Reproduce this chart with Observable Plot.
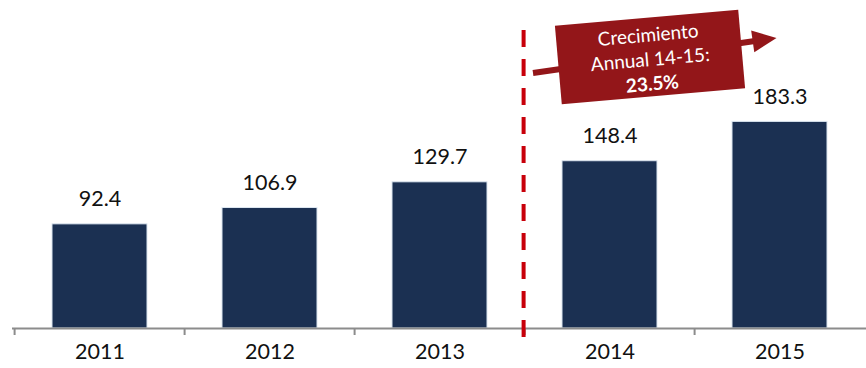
<!DOCTYPE html>
<html>
<head>
<meta charset="utf-8">
<script src="https://cdn.jsdelivr.net/npm/d3@7"></script>
<script src="https://cdn.jsdelivr.net/npm/@observablehq/plot@0.6"></script>
<style>
  html, body { margin: 0; padding: 0; background: #fff; }
  #chart svg { display: block; }
</style>
</head>
<body>
<div id="chart"></div>
<script>
const years = ["2011", "2012", "2013", "2014", "2015"];
const values = [92.4, 106.9, 129.7, 148.4, 183.3];
const annotationLines = ["Crecimiento", "Annual 14-15:", "23.5%"];

const data = years.map((year, i) => ({year, value: values[i]}));

const W = 866, H = 368, mL = 12, mR = 0, mT = 0, mB = 40;
const step = (W - mL - mR) / years.length;
const yMax = 291;
const pxPerUnit = (H - mT - mB) / yMax;
const font = "Lato, 'Open Sans', sans-serif";

const plot = Plot.plot({
  width: W, height: H,
  marginLeft: mL, marginRight: mR, marginTop: mT, marginBottom: mB,
  style: {fontFamily: font, background: "transparent"},
  x: {domain: years, paddingInner: 0.444, paddingOuter: 0.222, axis: null},
  y: {domain: [0, yMax], axis: null},
  marks: [
    Plot.barY(data, {x: "year", y: "value", fill: "#1b3052", stroke: "#dce6f0", strokeWidth: 1}),
    Plot.text(data, {x: "year", y: "value", text: d => d.value.toFixed(1), dy: -25, fontSize: 21.5, fill: "#111"}),
    Plot.text(data, {x: "year", frameAnchor: "bottom", text: "year", dy: 30, fontSize: 21.5, fill: "#111"}),
    Plot.ruleY([0], {stroke: "#8c8c8c", strokeWidth: 2}),
    Plot.ruleX(years, {x: d => d, dx: -step / 2, y1: 0, y2: -7 / pxPerUnit, stroke: "#8c8c8c", strokeWidth: 2}),
    Plot.ruleX(["2014"], {x: d => d, dx: -step / 2 - 1, y1: (H - mB - 30) / pxPerUnit, y2: -9 / pxPerUnit,
      stroke: "#c8000a", strokeWidth: 4, strokeDasharray: "17,12"})
  ]
});
document.getElementById("chart").appendChild(plot);

// Annotation: arrow + rotated box
const svg = d3.select(plot);
const red = "#931619";
const arrow = svg.append("g").attr("transform", "translate(533,73) rotate(-8.2)");
arrow.append("rect").attr("x", 0).attr("y", -3).attr("width", 226).attr("height", 6).attr("fill", red);
arrow.append("polygon").attr("points", "222,-11 246,0 222,11").attr("fill", red);

const box = svg.append("g").attr("transform", "translate(650,57) rotate(-5)");
box.append("rect").attr("x", -92).attr("y", -39.5).attr("width", 184).attr("height", 79).attr("fill", red);
annotationLines.forEach((t, i) => {
  box.append("text")
    .attr("x", 0).attr("y", -23 + i * 24.5)
    .attr("text-anchor", "middle").attr("dominant-baseline", "central")
    .attr("fill", "#fff").attr("font-size", 19).attr("font-family", font)
    .attr("font-weight", i === 2 ? "bold" : "normal")
    .text(t);
});
</script>
</body>
</html>
